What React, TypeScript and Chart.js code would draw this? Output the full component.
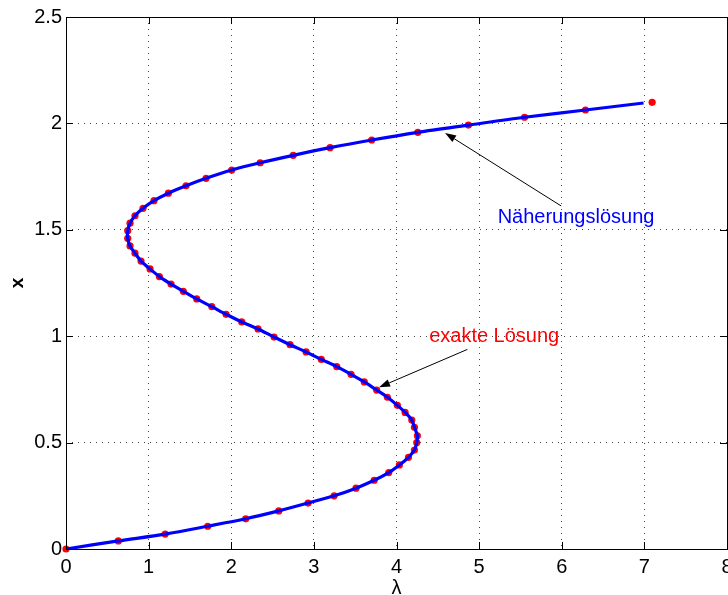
import React, { useEffect, useRef } from "react";
import { Chart, registerables } from "chart.js";

Chart.register(...registerables);

// Exakte Lösung: sampled points (λ, x) along the S-shaped branch
const exactLambda = [
  0.0, 0.633, 1.2, 1.715, 2.175, 2.575, 2.93, 3.245, 3.51, 3.73,
  3.906, 4.035, 4.145, 4.217, 4.245, 4.253, 4.217, 4.185, 4.104, 4.011,
  3.89, 3.76, 3.61, 3.45, 3.277, 3.09, 2.906, 2.712, 2.518, 2.324,
  2.127, 1.937, 1.764, 1.582, 1.42, 1.271, 1.13, 1.017, 0.908, 0.835,
  0.775, 0.747, 0.747, 0.775, 0.835, 0.932, 1.065, 1.239, 1.453, 1.695,
  2.006, 2.35, 2.75, 3.196, 3.7, 4.258, 4.87, 5.549, 6.287, 7.094,
];
const exactX = [
  0.0, 0.038, 0.07, 0.107, 0.142, 0.179, 0.216, 0.25, 0.286, 0.323,
  0.359, 0.395, 0.431, 0.465, 0.5, 0.532, 0.572, 0.606, 0.642, 0.675,
  0.713, 0.747, 0.785, 0.821, 0.857, 0.891, 0.926, 0.96, 0.996, 1.034,
  1.067, 1.103, 1.139, 1.175, 1.211, 1.245, 1.28, 1.316, 1.353, 1.39,
  1.424, 1.46, 1.496, 1.531, 1.566, 1.601, 1.637, 1.672, 1.707, 1.742,
  1.781, 1.815, 1.85, 1.886, 1.922, 1.958, 1.992, 2.029, 2.063, 2.099,
];

// Näherungslösung: the approximate curve, ending at λ = 7
const approxLambda = [
  0.0, 0.633, 1.2, 1.715, 2.175, 2.575, 2.93, 3.245, 3.51, 3.73,
  3.906, 4.035, 4.145, 4.217, 4.245, 4.253, 4.217, 4.185, 4.104, 4.011,
  3.89, 3.76, 3.61, 3.45, 3.277, 3.09, 2.906, 2.712, 2.518, 2.324,
  2.127, 1.937, 1.764, 1.582, 1.42, 1.271, 1.13, 1.017, 0.908, 0.835,
  0.775, 0.747, 0.747, 0.775, 0.835, 0.932, 1.065, 1.239, 1.453, 1.695,
  2.006, 2.35, 2.75, 3.196, 3.7, 4.258, 4.87, 5.549, 6.287, 6.99,
];
const approxX = [
  0.0, 0.038, 0.07, 0.107, 0.142, 0.179, 0.216, 0.25, 0.286, 0.323,
  0.359, 0.395, 0.431, 0.465, 0.5, 0.532, 0.572, 0.606, 0.642, 0.675,
  0.713, 0.747, 0.785, 0.821, 0.857, 0.891, 0.926, 0.96, 0.996, 1.034,
  1.067, 1.103, 1.139, 1.175, 1.211, 1.245, 1.28, 1.316, 1.353, 1.39,
  1.424, 1.46, 1.496, 1.531, 1.566, 1.601, 1.637, 1.672, 1.707, 1.742,
  1.781, 1.815, 1.85, 1.886, 1.922, 1.958, 1.992, 2.029, 2.063, 2.096,
];

const lambdaTicks = [0, 1, 2, 3, 4, 5, 6, 7, 8];
const xTicks = [0, 0.5, 1, 1.5, 2, 2.5];

const approxLabel = "Näherungslösung";
const exactLabel = "exakte Lösung";
// annotation anchors in data units: [λ, x]
const approxTextAt = [5.224, 1.533];
const approxArrowFrom = [5.993, 1.612];
const approxArrowTo = [4.588, 1.955];
const exactTextAt = [4.395, 0.975];
const exactArrowFrom = [4.858, 0.938];
const exactArrowTo = [3.789, 0.76];

const FONT = '"Liberation Sans", Arial, Helvetica, sans-serif';

function drawArrow(ctx: CanvasRenderingContext2D, x1: number, y1: number, x2: number, y2: number) {
  const ang = Math.atan2(y2 - y1, x2 - x1);
  const len = 11;
  const half = 3.8;
  const bx = x2 - len * Math.cos(ang);
  const by = y2 - len * Math.sin(ang);
  ctx.save();
  ctx.strokeStyle = "#000";
  ctx.fillStyle = "#000";
  ctx.lineWidth = 1;
  ctx.beginPath();
  ctx.moveTo(x1, y1);
  ctx.lineTo(bx, by);
  ctx.stroke();
  ctx.beginPath();
  ctx.moveTo(x2, y2);
  ctx.lineTo(bx + half * Math.sin(ang), by - half * Math.cos(ang));
  ctx.lineTo(bx - half * Math.sin(ang), by + half * Math.cos(ang));
  ctx.closePath();
  ctx.fill();
  ctx.restore();
}

const framePlugin = {
  id: "frameAndNotes",
  afterDatasetsDraw(chart: any) {
    const { ctx, chartArea } = chart;
    const sx = chart.scales.x;
    const sy = chart.scales.y;
    const { left, right, top, bottom } = chartArea;
    ctx.save();
    // box
    ctx.strokeStyle = "#000";
    ctx.lineWidth = 1;
    ctx.strokeRect(Math.round(left) + 0.5, Math.round(top) + 0.5, Math.round(right - left), Math.round(bottom - top));
    // inward ticks on all four sides
    const tl = 7;
    ctx.beginPath();
    lambdaTicks.forEach((v) => {
      const p = Math.round(sx.getPixelForValue(v)) + 0.5;
      ctx.moveTo(p, bottom);
      ctx.lineTo(p, bottom - tl);
      ctx.moveTo(p, top);
      ctx.lineTo(p, top + tl);
    });
    xTicks.forEach((v) => {
      const p = Math.round(sy.getPixelForValue(v)) + 0.5;
      ctx.moveTo(left, p);
      ctx.lineTo(left + tl, p);
      ctx.moveTo(right, p);
      ctx.lineTo(right - tl, p);
    });
    ctx.stroke();

    // annotations
    drawArrow(
      ctx,
      sx.getPixelForValue(approxArrowFrom[0]), sy.getPixelForValue(approxArrowFrom[1]),
      sx.getPixelForValue(approxArrowTo[0]), sy.getPixelForValue(approxArrowTo[1])
    );
    drawArrow(
      ctx,
      sx.getPixelForValue(exactArrowFrom[0]), sy.getPixelForValue(exactArrowFrom[1]),
      sx.getPixelForValue(exactArrowTo[0]), sy.getPixelForValue(exactArrowTo[1])
    );
    ctx.font = `20px ${FONT}`;
    ctx.textAlign = "left";
    ctx.textBaseline = "alphabetic";
    ctx.fillStyle = "#0000ff";
    ctx.fillText(approxLabel, sx.getPixelForValue(approxTextAt[0]), sy.getPixelForValue(approxTextAt[1]));
    ctx.fillStyle = "#ff0000";
    ctx.fillText(exactLabel, sx.getPixelForValue(exactTextAt[0]), sy.getPixelForValue(exactTextAt[1]));

    // axis titles
    ctx.fillStyle = "#000";
    ctx.textAlign = "center";
    ctx.textBaseline = "middle";
    ctx.font = `20px ${FONT}`;
    ctx.fillText("λ", (left + right) / 2, bottom + 39);
    ctx.save();
    ctx.translate(18, (top + bottom) / 2);
    ctx.rotate(-Math.PI / 2);
    ctx.font = `bold 19px ${FONT}`;
    ctx.fillText("x", 0, 0);
    ctx.restore();
    ctx.restore();
  },
};

export default function App() {
  const canvasRef = useRef<HTMLCanvasElement | null>(null);

  useEffect(() => {
    const canvas = canvasRef.current;
    if (!canvas) return;
    const approxPts = approxLambda.map((l, i) => ({ x: l, y: approxX[i] }));
    const exactPts = exactLambda.map((l, i) => ({ x: l, y: exactX[i] }));

    const tickFont = { family: FONT, size: 20 };
    const chart = new Chart(canvas, {
      type: "scatter",
      data: {
        datasets: [
          {
            label: approxLabel,
            data: approxPts,
            showLine: true,
            borderColor: "#0000ff",
            backgroundColor: "#0000ff",
            borderWidth: 3.2,
            pointRadius: 0,
            tension: 0.3,
            fill: false,
            order: 0,
          },
          {
            label: exactLabel,
            data: exactPts,
            showLine: false,
            borderColor: "#ff0000",
            backgroundColor: "#ff0000",
            pointRadius: 3.6,
            pointBorderWidth: 0,
            clip: false,
            order: 1,
          },
        ],
      },
      options: {
        responsive: false,
        animation: false,
        devicePixelRatio: 1,
        events: [],
        layout: { padding: { left: 0, top: 17, right: 15, bottom: 0 } },
        plugins: { legend: { display: false }, tooltip: { enabled: false } },
        scales: {
          x: {
            type: "linear",
            min: 0,
            max: 8,
            afterBuildTicks: (s: any) => {
              s.ticks = lambdaTicks.map((v) => ({ value: v }));
            },
            afterFit: (s: any) => {
              s.height = 46;
            },
            grid: { color: "#444", lineWidth: 1, drawTicks: false },
            border: { display: false, dash: [1, 5] },
            ticks: {
              color: "#000",
              font: tickFont,
              padding: 6,
              maxRotation: 0,
              callback: (v: any) => String(v),
            },
          },
          y: {
            type: "linear",
            min: 0,
            max: 2.5,
            afterBuildTicks: (s: any) => {
              s.ticks = xTicks.map((v) => ({ value: v }));
            },
            afterFit: (s: any) => {
              s.width = 66;
            },
            grid: { color: "#444", lineWidth: 1, drawTicks: false },
            border: { display: false, dash: [1, 5] },
            ticks: {
              color: "#000",
              font: tickFont,
              padding: 4,
              callback: (v: any) => String(v),
            },
          },
        },
      },
      plugins: [framePlugin],
    } as any);

    return () => chart.destroy();
  }, []);

  return (
    <div
      style={{
        position: "fixed",
        left: 0,
        top: 0,
        width: 728,
        height: 595,
        overflow: "hidden",
        background: "#fff",
      }}
    >
      <canvas ref={canvasRef} width={742} height={595} style={{ display: "block" }} />
    </div>
  );
}
